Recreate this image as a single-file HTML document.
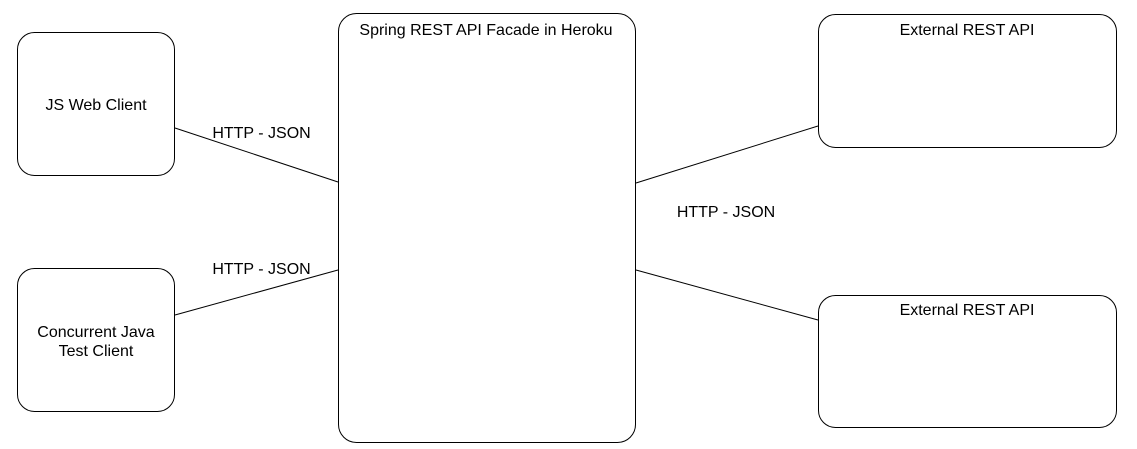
<!DOCTYPE html>
<html><head><meta charset="utf-8"><style>
html,body{margin:0;padding:0;background:#fff;}
svg{display:block;}
text{font-family:"Liberation Sans",Helvetica,sans-serif;font-size:16px;fill:#000;}
</style></head><body>
<svg width="1137" height="449" viewBox="0 0 1137 449" xmlns="http://www.w3.org/2000/svg">
<g fill="#fff" stroke="#000" stroke-width="1">
<rect x="17.5" y="32.5" width="157" height="143" rx="17"/>
<rect x="17.5" y="268.5" width="157" height="143" rx="17"/>
<rect x="338.5" y="13.5" width="297" height="429" rx="18"/>
<rect x="818.5" y="14.5" width="298" height="133" rx="17"/>
<rect x="818.5" y="295.5" width="298" height="132" rx="17"/>
</g>
<g stroke="#000" stroke-width="1">
<line x1="175" y1="128" x2="338" y2="182"/>
<line x1="175" y1="315" x2="338" y2="270"/>
<line x1="636" y1="183" x2="818" y2="126"/>
<line x1="636" y1="270" x2="818" y2="320"/>
</g>
<text x="96" y="110" text-anchor="middle">JS Web Client</text>
<text x="96" y="337" text-anchor="middle">Concurrent Java</text>
<text x="96" y="356" text-anchor="middle">Test Client</text>
<text x="486" y="35" text-anchor="middle">Spring REST API Facade in Heroku</text>
<text x="967" y="35" text-anchor="middle">External REST API</text>
<text x="967" y="315" text-anchor="middle">External REST API</text>
<text x="261.5" y="138" text-anchor="middle">HTTP - JSON</text>
<text x="261.5" y="274" text-anchor="middle">HTTP - JSON</text>
<text x="726" y="217" text-anchor="middle">HTTP - JSON</text>
</svg>
</body></html>
